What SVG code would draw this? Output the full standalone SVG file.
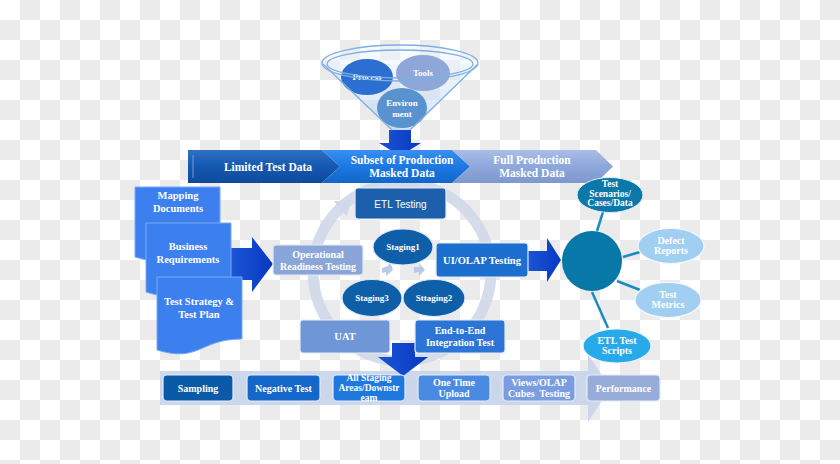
<svg xmlns="http://www.w3.org/2000/svg" width="840" height="464" viewBox="0 0 840 464">
<defs>
<pattern id="chk" width="40" height="40" patternUnits="userSpaceOnUse">
<rect width="40" height="40" fill="#ffffff"/>
<rect x="20" y="0" width="20" height="20" fill="#ebebeb"/>
<rect x="0" y="20" width="20" height="20" fill="#ebebeb"/>
</pattern>
<linearGradient id="g1" x1="0" y1="0" x2="0" y2="1"><stop offset="0" stop-color="#2d70c4"/><stop offset="0.5" stop-color="#1558b0"/><stop offset="1" stop-color="#0d4a9c"/></linearGradient>
<linearGradient id="g2" x1="0" y1="0" x2="0" y2="1"><stop offset="0" stop-color="#3a8ff0"/><stop offset="0.5" stop-color="#1c78e2"/><stop offset="1" stop-color="#1266c8"/></linearGradient>
<linearGradient id="g3" x1="0" y1="0" x2="0" y2="1"><stop offset="0" stop-color="#a9bde6"/><stop offset="0.5" stop-color="#8ea8dc"/><stop offset="1" stop-color="#7e98cf"/></linearGradient>
<linearGradient id="ga" x1="0" y1="0" x2="1" y2="0"><stop offset="0" stop-color="#1c55d6"/><stop offset="1" stop-color="#0838c0"/></linearGradient>
<linearGradient id="gf" x1="0" y1="0" x2="0" y2="1"><stop offset="0" stop-color="#e4eefa" stop-opacity="0.5"/><stop offset="1" stop-color="#b8d3f0" stop-opacity="0.7"/></linearGradient>
<style>
.t{font-family:"Liberation Serif","Times New Roman",serif;font-weight:bold;fill:#ffffff;text-anchor:middle}
.s{font-family:"Liberation Sans",Arial,sans-serif;fill:#ffffff;text-anchor:middle}
.bx{stroke:#e3ebf7;stroke-width:1.2}
.doc{fill:#3b80ee;stroke:#7aaaf5;stroke-width:1}
.st{fill:#0f5ea8;stroke:#dfe9f6;stroke-width:1.2}
.rim{fill:none;stroke:#7fb0e0;stroke-width:1.3}
.ln{stroke:#1a8bc2;stroke-width:2.5;fill:none}
.blk{fill:url(#ga)}
</style>
</defs>
<rect width="840" height="464" fill="url(#chk)"/>

<g id="connectors">
<circle cx="402" cy="272" r="89" fill="none" stroke="#d0d9ea" stroke-width="11" opacity="0.9"/>
<polygon points="351,200 346.9,216.5 333.9,201.3" fill="#d0d9ea"/>
<polygon points="382,268 388,266 390,262 393,270 386,276 386,272 382,273" fill="#b9c9e6"/>
<polygon points="414,267 420,267 419,263 425,270 419,276 419,272 414,273" fill="#b9c9e6"/>
<polygon points="389,130 411,130 411,143 421,143 400,156 379,143 389,143" class="blk"/>
<polygon points="231,248 252,248 252,237 273,264 252,292 252,280 231,280" class="blk"/>
<polygon points="528,251 547,251 547,238 561,260 547,282 547,271 528,271" class="blk"/>
<path d="M160,371 H588 V354 L610,388 L588,422 V405 H160 Z" fill="#c8d4ea" opacity="0.9"/>
<polygon points="392,343 415,343 415,357 428,357 403,376 378,357 392,357" class="blk"/>
<line x1="597" y1="231" x2="603" y2="212" class="ln"/>
<line x1="623" y1="257" x2="640" y2="252" class="ln"/>
<line x1="617" y1="281" x2="640" y2="290" class="ln"/>
<line x1="592" y1="292" x2="608" y2="328" class="ln"/>
</g>

<g id="funnel">
<path d="M323,64 L392,130 L410,130 L478,64 Z" fill="url(#gf)"/>
<ellipse cx="400" cy="63" rx="78" ry="18" fill="#eef4fb" opacity="0.5"/>
<g id="process"><ellipse cx="367" cy="77" rx="26" ry="18" fill="#2c6fd0"/><text x="367" y="80" class="t" font-size="9">Process</text></g>
<g id="tools"><ellipse cx="423" cy="73" rx="27" ry="18" fill="#8ea6d8"/><text x="423" y="76" class="t" font-size="9">Tools</text></g>
<g id="environment"><ellipse cx="402" cy="108" rx="25" ry="20" fill="#5a92cf"/><text x="402" y="106" class="t" font-size="9">Environ</text><text x="402" y="117" class="t" font-size="9">ment</text></g>
<ellipse cx="400" cy="63" rx="78" ry="18" class="rim"/>
<ellipse cx="400" cy="64" rx="73" ry="14" class="rim"/>
<path d="M323,64 L392,130 M478,64 L410,130" class="rim"/>
</g>

<g id="banner">
<path d="M188,150 H322 L340,166.5 L322,183 H188 Z" fill="url(#g1)"/>
<line x1="193" y1="155" x2="193" y2="178" stroke="#6d9ad6" stroke-width="1"/>
<path d="M322,150 H452 L470,166.5 L452,183 H322 L340,166.5 Z" fill="url(#g2)"/>
<path d="M452,150 H596 L613,166.5 L596,183 H452 L470,166.5 Z" fill="url(#g3)"/>
<text x="268" y="170.5" class="t" font-size="11.5">Limited Test Data</text>
<text x="402" y="164" class="t" font-size="11.5">Subset of Production</text>
<text x="402" y="176.5" class="t" font-size="11.5">Masked Data</text>
<text x="532" y="164" class="t" font-size="11.5">Full Production</text>
<text x="532" y="176.5" class="t" font-size="11.5">Masked Data</text>
</g>

<g id="mapping-documents">
<path d="M135,187 H220 V247 C177.5,247 177.5,270 135,257 Z" class="doc"/>
<text x="178" y="199" class="t" font-size="10.5">Mapping</text>
<text x="178" y="211.5" class="t" font-size="10.5">Documents</text>
</g>
<g id="business-requirements">
<path d="M146,223 H231 V283 C188.5,283 188.5,306 146,292 Z" class="doc"/>
<text x="188" y="250" class="t" font-size="10.5">Business</text>
<text x="188" y="262.5" class="t" font-size="10.5">Requirements</text>
</g>
<g id="test-strategy">
<path d="M157,277 H242 V339 C199.5,339 199.5,363 157,350 Z" class="doc"/>
<text x="199" y="305" class="t" font-size="10.5">Test Strategy &amp;</text>
<text x="199" y="317.5" class="t" font-size="10.5">Test Plan</text>
</g>

<g id="etl-testing"><rect x="355" y="188" width="91" height="31" rx="3" fill="#1c60ab" class="bx"/><text x="400.5" y="207.5" class="s" font-size="10">ETL Testing</text></g>
<g id="operational"><rect x="273" y="245" width="90" height="30" rx="3" fill="#8aa6d8" class="bx"/><text x="318" y="257.5" class="t" font-size="10">Operational</text><text x="318" y="269.5" class="t" font-size="10">Readiness Testing</text></g>
<g id="ui-olap"><rect x="436" y="243" width="92" height="34" rx="3" fill="#1c6fcf" class="bx"/><text x="482" y="263.5" class="t" font-size="10.5">UI/OLAP Testing</text></g>
<g id="staging1"><ellipse cx="403" cy="247" rx="30" ry="18" class="st"/><text x="403" y="250" class="t" font-size="9">Staging1</text></g>
<g id="staging3"><ellipse cx="372" cy="298" rx="30" ry="18.5" class="st"/><text x="372" y="301" class="t" font-size="9">Staging3</text></g>
<g id="staging2"><ellipse cx="434" cy="298" rx="31" ry="18.5" class="st"/><text x="434" y="301" class="t" font-size="9">Sttaging2</text></g>
<g id="uat"><rect x="300" y="320" width="90" height="33" rx="3" fill="#6f97d8" class="bx"/><text x="345" y="340" class="t" font-size="10.5">UAT</text></g>
<g id="end-to-end"><rect x="415" y="320" width="90" height="33" rx="3" fill="#2c74d6" class="bx"/><text x="460" y="334" class="t" font-size="10">End-to-End</text><text x="460" y="346" class="t" font-size="10">Integration Test</text></g>

<g id="hub"><circle cx="592" cy="261" r="30" fill="#0878a8"/></g>
<g id="test-scenarios"><ellipse cx="610" cy="195" rx="33" ry="17.5" fill="#0a78a8" stroke="#e0eef8" stroke-width="1"/><text x="610" y="187" class="t" font-size="9.5">Test</text><text x="610" y="196.5" class="t" font-size="9.5">Scenarios/</text><text x="610" y="206" class="t" font-size="9.5">Cases/Data</text></g>
<g id="defect-reports"><ellipse cx="671" cy="246" rx="33" ry="17.5" fill="#a0cff2" stroke="#f2f8fd" stroke-width="1.2"/><text x="671" y="243.5" class="t" font-size="10">Defect</text><text x="671" y="253.5" class="t" font-size="10">Reports</text></g>
<g id="test-metrics"><ellipse cx="668" cy="300" rx="33" ry="17.5" fill="#a0cff2" stroke="#f2f8fd" stroke-width="1.2"/><text x="668" y="297.5" class="t" font-size="10">Test</text><text x="668" y="307.5" class="t" font-size="10">Metrics</text></g>
<g id="etl-test-scripts"><ellipse cx="617" cy="346" rx="34" ry="17" fill="#28a9ea" stroke="#e6f4fc" stroke-width="1.2"/><text x="617" y="343.5" class="t" font-size="10">ETL Test</text><text x="617" y="353.5" class="t" font-size="10">Scripts</text></g>

<g id="sampling"><rect x="163" y="375" width="70" height="26" rx="4" fill="#0b5aa8" class="bx"/><text x="198" y="391.5" class="t" font-size="10">Sampling</text></g>
<g id="negative-test"><rect x="247" y="375" width="73" height="26" rx="4" fill="#1466c8" class="bx"/><text x="283.5" y="391.5" class="t" font-size="10">Negative Test</text></g>
<g id="all-staging"><rect x="333" y="375" width="72" height="26" rx="4" fill="#1e78de" class="bx"/><text x="369" y="381" class="t" font-size="9.5">All Staging</text><text x="369" y="391" class="t" font-size="9.5">Areas/Downstr</text><text x="369" y="401" class="t" font-size="9.5">eam</text></g>
<g id="one-time-upload"><rect x="418" y="375" width="72" height="26" rx="4" fill="#4a8ae0" class="bx"/><text x="454" y="386" class="t" font-size="10">One Time</text><text x="454" y="396.5" class="t" font-size="10">Upload</text></g>
<g id="views-olap"><rect x="503" y="375" width="72" height="26" rx="4" fill="#7a9ce0" class="bx"/><text x="539" y="386" class="t" font-size="10">Views/OLAP</text><text x="539" y="396.5" class="t" font-size="10" xml:space="preserve">Cubes  Testing</text></g>
<g id="performance"><rect x="587" y="375" width="73" height="26" rx="4" fill="#98acd9" class="bx"/><text x="623.5" y="391.5" class="t" font-size="10">Performance</text></g>
</svg>
